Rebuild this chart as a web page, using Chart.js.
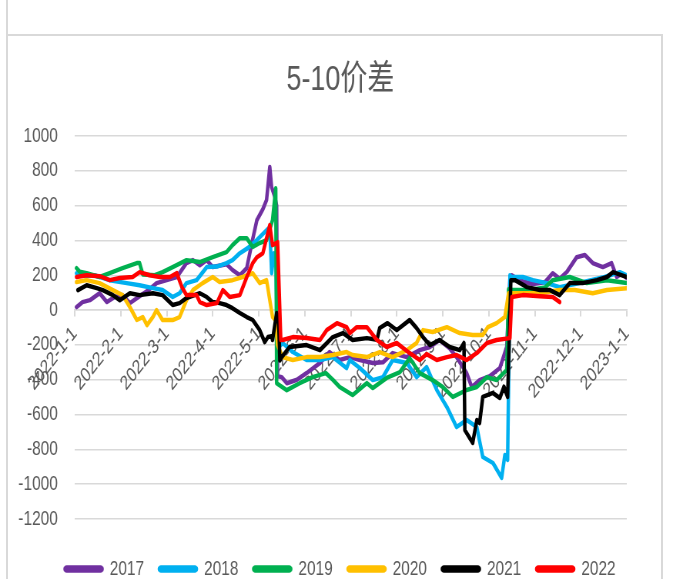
<!DOCTYPE html>
<html lang="zh">
<head>
  <meta charset="UTF-8" />
  <title>5-10价差</title>
  <script src="https://cdn.jsdelivr.net/npm/chart.js"></script>
  <style>
    html, body { margin: 0; padding: 0; background: #fff; overflow: hidden; }
    #wrap { position: relative; width: 697px; height: 579px; overflow: hidden; }
    /* chart is laid out 905px wide, then narrowed into the 697px frame */
    #stage { position: absolute; left: 0; top: 0; width: 905px; height: 589px;
             transform: scaleX(0.77); transform-origin: 0 0; }
    .frame { position: absolute; background: #d9d9d9; }
  </style>
</head>
<body>
  <div id="wrap">
    <div class="frame" style="left:6px; top:0; width:2px; height:579px;"></div>
    <div class="frame" style="left:6px; top:34px; width:657px; height:2px;"></div>
    <div class="frame" style="left:661px; top:34px; width:2px; height:545px;"></div>
    <div id="stage"><canvas id="chart" width="905" height="589"></canvas></div>
  </div>

  <script>
    // x = months since 2022-1-1, y = spread
    const monthTicks = ['2022-1-1', '2022-2-1', '2022-3-1', '2022-4-1', '2022-5-1', '2022-6-1',
      '2022-7-1', '2022-8-1', '2022-9-1', '2022-10-1', '2022-11-1', '2022-12-1', '2023-1-1'];
    const years = ['2017', '2018', '2019', '2020', '2021', '2022'];

    const s2017 = [[0.04,17],[0.17,46],[0.33,57],[0.54,97],[0.70,46],[0.87,75],[1.04,86],[1.20,40],
      [1.41,80],[1.63,120],[1.78,155],[2.00,172],[2.22,190],[2.43,270],[2.57,287],[2.72,258],[2.87,287],
      [3.00,247],[3.30,263],[3.43,230],[3.59,200],[3.74,241],[3.85,385],[3.96,517],[4.09,580],[4.17,632],
      [4.24,822],[4.28,706],[4.35,650],[4.39,600],[4.41,-380],[4.50,-385],[4.61,-420],[4.83,-400],
      [5.04,-362],[5.33,-304],[5.54,-241],[5.76,-287],[5.98,-270],[6.20,-287],[6.48,-304],[6.70,-300],
      [6.91,-247],[7.22,-270],[7.50,-230],[7.72,-212],[7.93,-172],[8.15,-220],[8.30,-270],[8.52,-362],
      [8.63,-442],[8.80,-402],[9.02,-380],[9.24,-333],[9.39,-212],[9.46,180],[9.50,200],[9.67,170],
      [9.96,150],[10.22,160],[10.39,212],[10.54,180],[10.70,220],[10.91,304],[11.09,316],[11.26,270],
      [11.48,247],[11.67,270],[11.78,190],[11.89,210],[12.00,184]];

    const s2018 = [[0.04,212],[0.22,195],[0.43,200],[0.76,172],[1.13,155],[1.41,143],[1.70,126],
      [1.91,115],[2.13,75],[2.28,97],[2.43,155],[2.65,172],[2.87,247],[3.09,250],[3.30,270],[3.43,287],
      [3.59,327],[3.76,356],[3.96,402],[4.17,459],[4.24,476],[4.28,212],[4.33,327],[4.37,300],
      [4.41,-220],[4.52,-189],[4.74,-241],[5.04,-287],[5.33,-287],[5.61,-270],[5.91,-333],[5.98,-287],
      [6.20,-333],[6.48,-402],[6.70,-385],[6.91,-287],[7.22,-304],[7.43,-385],[7.65,-327],[7.87,-459],
      [8.09,-557],[8.30,-672],[8.52,-631],[8.74,-672],[8.87,-844],[9.09,-878],[9.28,-964],[9.35,-832],
      [9.41,-861],[9.46,200],[9.50,190],[9.74,190],[9.96,172],[10.26,155],[10.54,132],[10.87,150],
      [11.20,170],[11.52,190],[11.85,218],[12.00,200]];

    const s2019 = [[0.04,241],[0.11,220],[0.26,212],[0.54,190],[0.76,212],[1.04,241],[1.35,270],
      [1.41,270],[1.48,205],[1.74,200],[1.91,218],[2.13,247],[2.43,287],[2.72,276],[3.00,304],[3.30,333],
      [3.43,373],[3.59,413],[3.74,413],[3.87,362],[4.02,385],[4.17,402],[4.30,517],[4.37,700],
      [4.39,-420],[4.61,-460],[4.89,-420],[5.17,-385],[5.46,-362],[5.61,-400],[5.76,-442],[6.04,-488],
      [6.35,-419],[6.48,-448],[6.78,-390],[7.07,-356],[7.28,-276],[7.50,-362],[7.78,-402],[8.00,-442],
      [8.22,-499],[8.52,-459],[8.74,-442],[8.96,-385],[9.17,-402],[9.39,-344],[9.43,120],[9.52,115],
      [9.89,115],[10.22,130],[10.39,172],[10.76,190],[11.13,155],[11.57,172],[12.00,155]];

    const s2020 = [[0.04,161],[0.26,172],[0.54,155],[0.83,115],[1.04,86],[1.20,17],[1.35,-57],
      [1.48,-40],[1.57,-86],[1.70,-40],[1.78,0],[1.91,-57],[2.13,-57],[2.28,-40],[2.43,57],[2.57,115],
      [2.78,155],[3.00,190],[3.15,161],[3.43,172],[3.65,190],[3.87,212],[4.02,155],[4.17,172],
      [4.30,-40],[4.37,-60],[4.41,-200],[4.52,-270],[4.74,-287],[5.04,-270],[5.33,-270],[5.61,-258],
      [5.91,-241],[6.04,-258],[6.35,-270],[6.63,-241],[6.91,-270],[7.22,-230],[7.43,-189],[7.57,-115],
      [7.78,-126],[8.09,-98],[8.37,-132],[8.65,-143],[8.87,-143],[8.98,-98],[9.17,-75],[9.35,-40],
      [9.43,97],[9.52,97],[10.11,97],[10.54,115],[10.87,115],[11.26,97],[11.57,115],[12.00,126]];

    const s2021 = [[0.07,115],[0.26,143],[0.48,126],[0.61,115],[0.83,86],[0.98,57],[1.20,97],
      [1.41,86],[1.70,97],[1.91,86],[2.13,29],[2.28,40],[2.43,69],[2.72,97],[2.87,75],[3.00,46],
      [3.15,40],[3.30,29],[3.43,11],[3.59,-17],[3.74,-40],[3.87,-57],[4.02,-115],[4.13,-184],
      [4.20,-155],[4.28,-150],[4.30,-172],[4.39,-17],[4.43,-40],[4.46,-290],[4.50,-270],[4.67,-212],
      [5.04,-201],[5.33,-230],[5.61,-155],[5.83,-132],[6.04,-172],[6.35,-161],[6.57,-170],[6.63,-103],
      [6.80,-75],[7.00,-115],[7.28,-57],[7.43,-103],[7.57,-155],[7.72,-201],[7.93,-172],[8.15,-212],
      [8.37,-230],[8.46,-189],[8.48,-689],[8.65,-763],[8.74,-631],[8.80,-649],[8.87,-499],[9.09,-476],
      [9.24,-505],[9.33,-440],[9.41,-499],[9.48,172],[9.57,172],[9.83,132],[10.11,115],[10.33,115],
      [10.54,86],[10.76,155],[11.04,155],[11.35,172],[11.57,190],[11.70,218],[12.00,190]];

    const s2022 = [[0.04,190],[0.26,200],[0.54,195],[0.76,172],[0.98,184],[1.26,190],[1.41,218],
      [1.63,200],[1.85,190],[2.07,190],[2.22,212],[2.33,132],[2.43,86],[2.65,86],[2.72,46],[2.87,29],
      [3.09,40],[3.22,115],[3.37,75],[3.59,86],[3.74,190],[3.87,270],[3.96,304],[4.09,327],[4.24,488],
      [4.30,373],[4.41,390],[4.48,-172],[4.52,-172],[4.74,-155],[5.04,-160],[5.33,-172],[5.48,-115],
      [5.70,-75],[5.91,-98],[5.98,-132],[6.13,-98],[6.35,-98],[6.57,-172],[6.78,-212],[7.00,-189],
      [7.28,-247],[7.50,-287],[7.65,-253],[7.87,-287],[8.09,-270],[8.30,-258],[8.52,-287],[8.74,-247],
      [8.96,-189],[9.17,-172],[9.46,-161],[9.50,75],[9.74,86],[10.11,80],[10.39,75],[10.54,46]];

    const series = [s2017, s2018, s2019, s2020, s2021, s2022];
    const lineColors = ['#7030a0', '#00b0f0', '#00b050', '#ffc000', '#000000', '#ff0000'];

    const textColor = '#595959';
    const gridColor = '#d9d9d9';
    const family = "'Liberation Sans', 'Noto Sans CJK SC', sans-serif";

    const datasets = series.map((pts, i) => ({
      label: years[i],
      data: pts.map(([x, y]) => ({ x, y })),
      borderColor: lineColors[i],
      backgroundColor: lineColors[i],
      borderWidth: 4.5,
      borderJoinStyle: 'round',
      borderCapStyle: 'round',
      pointRadius: 0,
      tension: 0,
      order: series.length - i   // later years drawn on top
    }));

    new Chart(document.getElementById('chart'), {
      type: 'line',
      data: { datasets },
      options: {
        responsive: false,
        animation: false,
        layout: { padding: { left: 0, right: 21, top: 0, bottom: 0 } },
        plugins: {
          title: {
            display: true,
            text: '5-10价差',
            color: textColor,
            font: { family, size: 35, weight: 'normal' },
            padding: { top: 59, bottom: 35 }
          },
          legend: {
            position: 'bottom',
            title: { display: true, text: '', font: { size: 10 }, padding: { top: 0, bottom: 8 } },
            labels: {
              boxWidth: 48,
              boxHeight: 3,
              padding: 20,
              color: textColor,
              font: { family, size: 20 },
              useBorderRadius: true,
              borderRadius: 2,
              sort: (a, b) => a.datasetIndex - b.datasetIndex
            }
          },
          tooltip: { enabled: false }
        },
        scales: {
          x: {
            type: 'linear',
            position: { y: 0 },
            min: 0,
            max: 12,
            ticks: {
              stepSize: 1,
              autoSkip: false,
              minRotation: 45,
              maxRotation: 45,
              padding: 6,
              color: textColor,
              font: { family, size: 20 },
              callback: v => monthTicks[v]
            },
            grid: { drawOnChartArea: false, drawTicks: true, tickLength: 6, color: gridColor, lineWidth: 2 },
            border: { color: gridColor, width: 1.5 }
          },
          y: {
            min: -1200,
            max: 1000,
            ticks: {
              stepSize: 200,
              padding: 22,
              color: textColor,
              font: { family, size: 20 },
              callback: v => String(v)
            },
            grid: { color: gridColor, lineWidth: 1.5, drawTicks: false },
            border: { display: false },
            afterFit: s => { s.width = 97; }
          },
          // empty right-hand axis, keeps the plot clear of the frame
          side: {
            position: 'right',
            ticks: { display: false },
            grid: { display: false },
            border: { display: false },
            afterFit: s => { s.width = 70; }
          }
        }
      }
    });
  </script>
</body>
</html>
